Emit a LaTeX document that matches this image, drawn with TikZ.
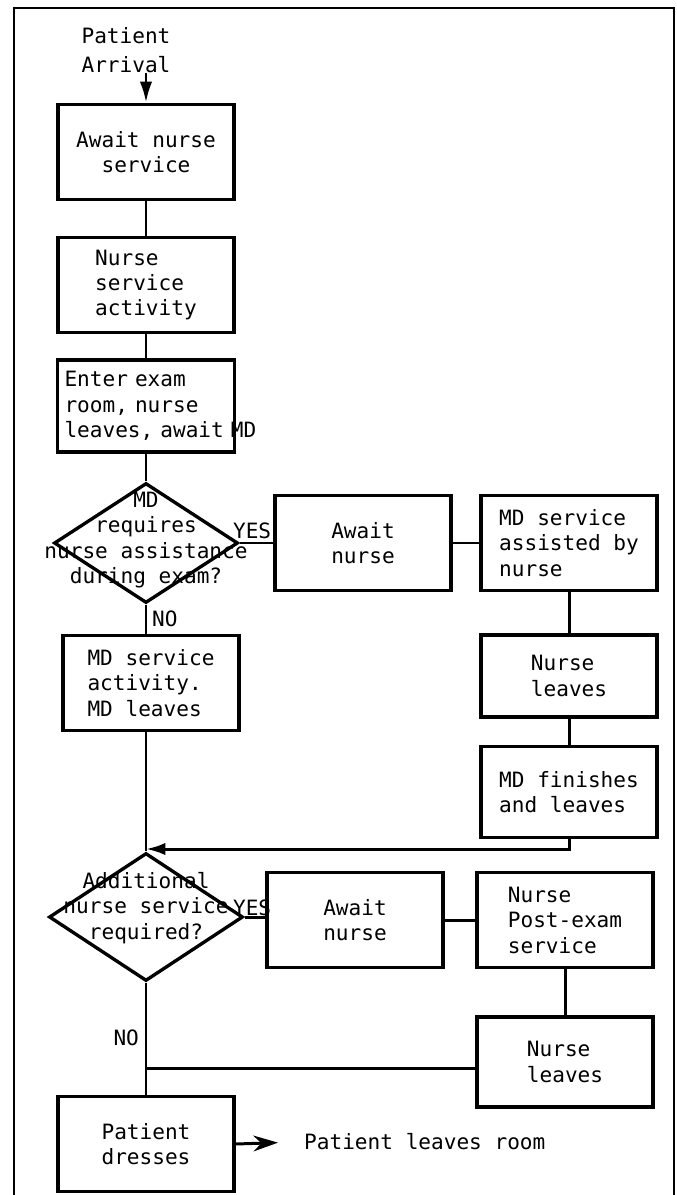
\documentclass[tikz,border=0pt]{standalone}
\usepackage{fontspec}
\setmonofont{DejaVu Sans Mono}
\usepackage{tikz}
\usetikzlibrary{arrows.meta, shapes.geometric}

\tikzset{
  box/.style={draw, line width=1.9pt, minimum width=3.52cm, minimum height=1.9cm, align=left, inner sep=4pt},
  decision/.style={draw, diamond, line width=1.9pt, inner sep=0pt},
  link/.style={line width=1.7pt},
  tag/.style={inner sep=1pt}
}

\begin{document}
\begin{tikzpicture}[x=0.02cm, y=-0.02cm, font=\ttfamily\fontsize{12}{14.5}\selectfont]
\useasboundingbox (0,0) rectangle (676,1195);

% frame
\draw[line width=1.3pt] (14,1195) -- (14,8) -- (674,8) -- (674,1195);

% left column
\node[align=left, inner sep=0pt] (arrival) at (126,50) {Patient\\[2pt]Arrival};
\node[box, align=center] (await1) at (146,152) {Await nurse\\service};
\node[box] (nursesvc) at (146,285) {Nurse\\service\\activity};
\node[box, text width=3.26cm, minimum height=1.84cm] (enter) at (146,406) {Enter exam\\room, nurse\\\mbox{leaves, await MD}};
\node[decision, minimum width=3.68cm, minimum height=2.4cm,
  label={[align=center, yshift=0.06cm]center:{MD\\requires\\nurse assistance\\during exam?}}] (ask1) at (146,543) {};
\node[box] (mdsvc) at (151,683) {MD service\\activity.\\MD leaves};
\node[decision, minimum width=3.88cm, minimum height=2.56cm,
  label={[align=center, yshift=0.18cm]center:{Additional\\nurse service\\required?}}] (ask2) at (146,917) {};
\node[box] (dress) at (146,1144) {Patient\\dresses};

% right side
\node[box] (awaitA) at (363,543) {Await\\nurse};
\node[box] (mdassist) at (569,543) {MD service\\assisted by\\nurse};
\node[box, minimum height=1.64cm] (leaveA) at (569,676) {Nurse\\leaves};
\node[box, minimum height=1.82cm] (mdfinish) at (569,792) {MD finishes\\and leaves};
\node[box] (awaitB) at (355,920) {Await\\nurse};
\node[box] (postexam) at (565,920) {Nurse\\Post-exam\\service};
\node[box, minimum height=1.8cm] (leaveB) at (565,1062) {Nurse\\leaves};
\node[anchor=west] (leaveroom) at (298,1142) {Patient leaves room};

% yes / no
\node[tag, anchor=south west] (yes1) at (231,541) {YES};
\node[tag, anchor=west] (no1) at (150,619) {NO};
\node[tag, anchor=south west] (yes2) at (231,918) {YES};
\node[tag, anchor=east] (no2) at (141,1038) {NO};

\coordinate (join1) at (146,849);
\coordinate (join2) at (146,1068);

% connectors
\draw[link, -{Latex[length=12pt, width=7pt]}] (arrival.south -| await1.north) -- (await1.north);
\draw[link] (await1) -- (nursesvc);
\draw[link] (nursesvc) -- (enter);
\draw[link] (enter) -- (ask1);
\draw[link] (ask1.east) -- (awaitA.west);
\draw[link] (awaitA) -- (mdassist);
\draw[link] (mdassist) -- (leaveA);
\draw[link] (leaveA) -- (mdfinish);
\draw[link, -{Latex[length=11pt, width=7pt]}] (mdfinish.south) |- (join1);
\draw[link] (ask1.south) -- (ask1.south |- mdsvc.north);
\draw[link] (mdsvc.south -| join1) -- (ask2.north);
\draw[link] (ask2.east) -- (ask2.east -| awaitB.west);
\draw[link] (awaitB) -- (postexam);
\draw[link] (postexam) -- (leaveB);
\draw[link] (leaveB.west |- join2) -- (join2);
\draw[link] (ask2.south) -- (dress.north);
\draw[link, -{Stealth[length=14pt, width=9pt]}, shorten >=0.4cm] (dress.east) -- (leaveroom.west);
\end{tikzpicture}
\end{document}
